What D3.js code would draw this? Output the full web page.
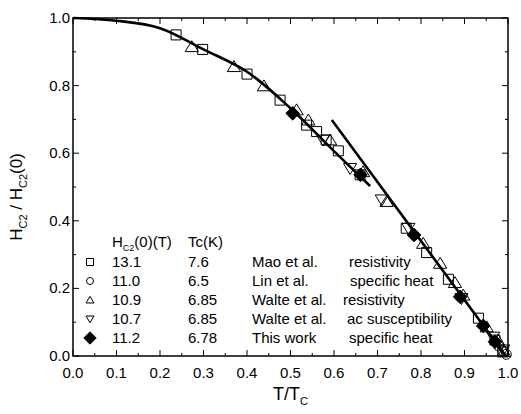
<!DOCTYPE html>
<html>
<head>
  <meta charset="utf-8">
  <title>Hc2 vs T/Tc</title>
  <script src="https://d3js.org/d3.v7.min.js"></script>
  <style>
    body { margin: 0; background: #fff; }
    text { font-family: "Liberation Sans", Arial, sans-serif; fill: #000; }
  </style>
</head>
<body>
<script>
  // data: [T/Tc, Hc2/Hc2(0)]
  var maoData = [[0.237,0.950],[0.298,0.907],[0.40,0.834],[0.476,0.757],[0.537,0.683],
                 [0.560,0.664],[0.582,0.639],[0.61,0.607],[0.66,0.536],[0.766,0.378],
                 [0.813,0.306],[0.863,0.227],[0.932,0.112],[0.97,0.047],[0.988,0.012]];
  var linData = [[0.978,0.03],[0.988,0.015],[0.996,0.005]];
  var walteResData = [[0.273,0.915],[0.37,0.856],[0.439,0.799],[0.514,0.728],[0.541,0.698],
                      [0.591,0.639],[0.667,0.545],[0.721,0.457],[0.805,0.333],[0.844,0.274],
                      [0.878,0.217],[0.897,0.18],[0.951,0.086],[0.977,0.047],[0.991,0.013]];
  var walteAcData = [[0.575,0.639],[0.637,0.555],[0.71,0.462],[0.771,0.378],[0.893,0.17],
                     [0.966,0.056],[0.989,0.018]];
  var thisWorkData = [[0.505,0.718],[0.661,0.536],[0.784,0.358],[0.89,0.175],[0.943,0.089],[0.970,0.042]];

  // fitted curve and straight line
  var fitCurve = [[0,1.0],[0.1,0.992],[0.2,0.97],[0.3,0.907],[0.4,0.841],[0.5,0.733],[0.6,0.606],[0.683,0.503]];
  var fitLine = [[0.595,0.698],[0.995,0.0]];

  var legendRows = [
    { sym: "square",   hc2: "13.1", tc: "7.6",  who: "Mao et al.",    how: "resistivity",       howX: 349 },
    { sym: "circle",   hc2: "11.0", tc: "6.5",  who: "Lin et al.",    how: "specific heat",     howX: 350 },
    { sym: "triangle", hc2: "10.9", tc: "6.85", who: "Walte et al.",  how: "resistivity",       howX: 343 },
    { sym: "down",     hc2: "10.7", tc: "6.85", who: "Walte et al.",  how: "ac susceptibility", howX: 347 },
    { sym: "diamond",  hc2: "11.2", tc: "6.78", who: "This work",     how: "specific heat",     howX: 349 }
  ];

  var xTicks = [0.0,0.1,0.2,0.3,0.4,0.5,0.6,0.7,0.8,0.9,1.0];
  var yTicks = [0.0,0.2,0.4,0.6,0.8,1.0];

  var W = 521, H = 414;
  var pL = 73, pR = 508, pT = 18, pB = 356;

  var svg = d3.select("body").append("svg")
      .attr("width", W).attr("height", H);

  var x = d3.scaleLinear().domain([0, 1]).range([pL, pR]);
  var y = d3.scaleLinear().domain([0, 1]).range([pB, pT]);

  // ticks (inside) on all four sides
  var xMinor = d3.range(0, 1.0001, 0.05);
  var yMinor = d3.range(0, 1.0001, 0.1);
  var tk = svg.append("g").attr("stroke", "#000").attr("stroke-width", 1);
  xMinor.forEach(function (t, i) {
    var len = (i % 2 === 0) ? 6 : 3;
    tk.append("line").attr("x1", x(t)).attr("x2", x(t)).attr("y1", pB).attr("y2", pB - len);
    tk.append("line").attr("x1", x(t)).attr("x2", x(t)).attr("y1", pT).attr("y2", pT + len);
  });
  yMinor.forEach(function (v, i) {
    var len = (i % 2 === 0) ? 6 : 3;
    tk.append("line").attr("y1", y(v)).attr("y2", y(v)).attr("x1", pL).attr("x2", pL + len);
    tk.append("line").attr("y1", y(v)).attr("y2", y(v)).attr("x1", pR).attr("x2", pR - len);
  });

  svg.append("rect")
      .attr("x", pL).attr("y", pT)
      .attr("width", pR - pL).attr("height", pB - pT)
      .attr("fill", "none").attr("stroke", "#000").attr("stroke-width", 1.5);

  svg.selectAll(".xt").data(xTicks).enter().append("text")
      .attr("x", function (d) { return x(d); })
      .attr("y", pB + 22)
      .attr("text-anchor", "middle")
      .style("font-size", "15px")
      .text(function (d) { return d.toFixed(1); });

  svg.selectAll(".yt").data(yTicks).enter().append("text")
      .attr("x", pL - 3)
      .attr("y", function (d) { return y(d) + 5; })
      .attr("text-anchor", "end")
      .style("font-size", "15px")
      .text(function (d) { return d.toFixed(1); });

  // axis titles
  var xt = svg.append("text").attr("x", 273).attr("y", 400).style("font-size", "18px");
  xt.append("tspan").text("T/T");
  xt.append("tspan").attr("dy", 5).style("font-size", "11px").text("C");

  var yt = svg.append("text")
      .attr("transform", "translate(22,197) rotate(-90)")
      .attr("text-anchor", "middle")
      .style("font-size", "17px");
  yt.append("tspan").text("H");
  yt.append("tspan").attr("dy", 5).style("font-size", "11px").text("C2");
  yt.append("tspan").attr("dy", -5).text(" / H");
  yt.append("tspan").attr("dy", 5).style("font-size", "11px").text("C2");
  yt.append("tspan").attr("dy", -5).text("(0)");

  // fit lines
  var line = d3.line().x(function (d) { return x(d[0]); }).y(function (d) { return y(d[1]); });
  svg.append("path").datum(fitCurve)
      .attr("d", line.curve(d3.curveCatmullRom))
      .attr("fill", "none").attr("stroke", "#000").attr("stroke-width", 2.6);
  svg.append("path").datum(fitLine)
      .attr("d", d3.line().x(function (d) { return x(d[0]); }).y(function (d) { return y(d[1]); }))
      .attr("fill", "none").attr("stroke", "#000").attr("stroke-width", 2.6);

  // symbols
  function symPath(kind, size) {
    var s = size;
    if (kind === "square") return d3.symbol().type(d3.symbolSquare).size(s * s)();
    if (kind === "circle") return d3.symbol().type(d3.symbolCircle).size(Math.PI * s * s / 4)();
    if (kind === "diamond") {
      var r = s * 0.62;
      return "M0," + (-r) + "L" + r + ",0L0," + r + "L" + (-r) + ",0Z";
    }
    var h = s * 0.5;
    if (kind === "triangle") return "M0," + (-h * 1.05) + "L" + (h * 1.15) + "," + (h * 0.85) + "L" + (-h * 1.15) + "," + (h * 0.85) + "Z";
    return "M0," + (h * 1.05) + "L" + (h * 1.15) + "," + (-h * 0.85) + "L" + (-h * 1.15) + "," + (-h * 0.85) + "Z";
  }

  function drawSeries(data, kind, size) {
    svg.append("g").selectAll("path").data(data).enter().append("path")
        .attr("transform", function (d) { return "translate(" + x(d[0]) + "," + y(d[1]) + ")"; })
        .attr("d", symPath(kind, size))
        .attr("fill", kind === "diamond" ? "#000" : "none")
        .attr("stroke", "#000").attr("stroke-width", 1);
  }
  drawSeries(maoData, "square", 10);
  drawSeries(linData, "circle", 10);
  drawSeries(walteResData, "triangle", 11.5);
  drawSeries(walteAcData, "down", 11.5);
  drawSeries(thisWorkData, "diamond", 11);

  // legend
  var hdr = svg.append("text").attr("x", 112).attr("y", 247).style("font-size", "15px");
  hdr.append("tspan").text("H");
  hdr.append("tspan").attr("dy", 4).style("font-size", "9px").text("C2");
  hdr.append("tspan").attr("dy", -4).text("(0)(T)");
  svg.append("text").attr("x", 188).attr("y", 247).style("font-size", "15px").text("Tc(K)");

  var lg = svg.append("g").selectAll("g").data(legendRows).enter().append("g")
      .attr("transform", function (d, i) { return "translate(0," + (262 + i * 19) + ")"; });
  lg.append("path")
      .attr("transform", "translate(90,0)")
      .attr("d", function (d) { return symPath(d.sym, d.sym === "diamond" ? 10 : 7); })
      .attr("fill", function (d) { return d.sym === "diamond" ? "#000" : "none"; })
      .attr("stroke", "#000").attr("stroke-width", 1);
  lg.append("text").attr("x", 112).attr("y", 5).style("font-size", "15px").text(function (d) { return d.hc2; });
  lg.append("text").attr("x", 188).attr("y", 5).style("font-size", "15px").text(function (d) { return d.tc; });
  lg.append("text").attr("x", 252).attr("y", 5).style("font-size", "15px").text(function (d) { return d.who; });
  lg.append("text").attr("x", function (d) { return d.howX; }).attr("y", 5).style("font-size", "15px").text(function (d) { return d.how; });
</script>
</body>
</html>
